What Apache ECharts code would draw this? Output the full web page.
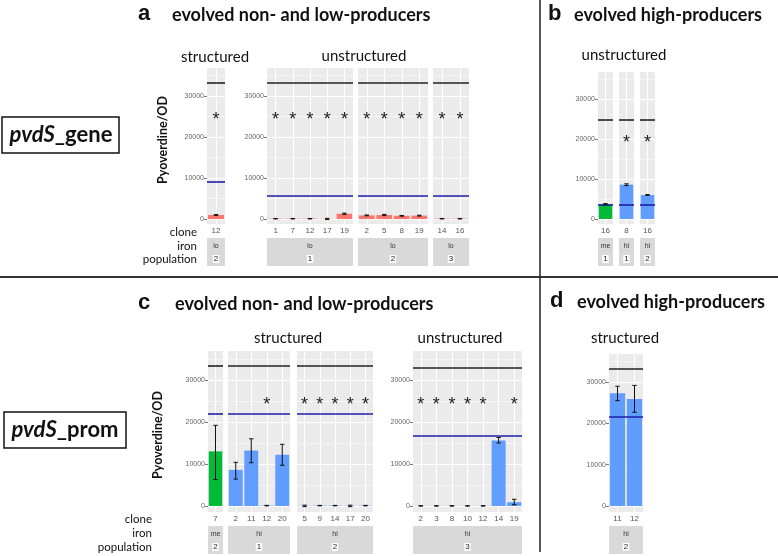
<!DOCTYPE html>
<html><head><meta charset="utf-8">
<script src="https://cdn.jsdelivr.net/npm/echarts@6/dist/echarts.min.js"></script>
<style>html,body{margin:0;padding:0;background:#fff}#c{width:778px;height:556px}</style>
</head><body><div id="c"></div>
<script>
// ================= DATA =================
const yTickValues = [0, 10000, 20000, 30000];
const yMinorValues = [5000, 15000, 25000, 35000];

// Panel a — pvdS_gene, evolved non- and low-producers
const aStrucClones = ['12'];
const aStrucValues = [1000];
const aStrucErrLow = [900];
const aStrucErrHigh = [1100];
const aStrucStars = ['12'];

const aUn1Clones = ['1', '7', '12', '17', '19'];
const aUn1Values = [100, 100, 100, 40, 1300];
const aUn1ErrLow = [50, 50, 50, -120, 1150];
const aUn1ErrHigh = [150, 150, 150, 180, 1450];
const aUn1Stars = ['1', '7', '12', '17', '19'];

const aUn2Clones = ['2', '5', '8', '19'];
const aUn2Values = [900, 1000, 800, 850];
const aUn2ErrLow = [800, 850, 720, 750];
const aUn2ErrHigh = [1000, 1150, 880, 950];
const aUn2Stars = ['2', '5', '8', '19'];

const aUn3Clones = ['14', '16'];
const aUn3Values = [100, 100];
const aUn3ErrLow = [50, 40];
const aUn3ErrHigh = [150, 160];
const aUn3Stars = ['14', '16'];

const aStrucBlack = 33300, aStrucBlue = 9000;
const aUnBlack = 33300, aUnBlue = 5800;
const aStarLevel = 25000;

// Panel b — evolved high-producers, unstructured
const b1Clones = ['16'], b1Values = [3700], b1ErrLow = [3550], b1ErrHigh = [3850], b1Stars = [];
const b2Clones = ['8'], b2Values = [8600], b2ErrLow = [8350], b2ErrHigh = [8800], b2Stars = ['8'];
const b3Clones = ['16'], b3Values = [6000], b3ErrLow = [5900], b3ErrHigh = [6100], b3Stars = ['16'];
const bBlack = 24800, bBlue = 3500, bStarLevel = 20000;

// Panel c — pvdS_prom, evolved non- and low-producers
const cS1Clones = ['7'], cS1Values = [13000], cS1ErrLow = [6300], cS1ErrHigh = [19200], cS1Stars = [];
const cS2Clones = ['2', '11', '12', '20'];
const cS2Values = [8600, 13200, 100, 12200];
const cS2ErrLow = [6400, 10300, 40, 9700];
const cS2ErrHigh = [10400, 16000, 160, 14700];
const cS2Stars = ['12'];
const cS3Clones = ['5', '9', '14', '17', '20'];
const cS3Values = [50, 100, 100, 50, 100];
const cS3ErrLow = [-150, 50, 50, -150, 50];
const cS3ErrHigh = [200, 150, 150, 200, 150];
const cS3Stars = ['5', '9', '14', '17', '20'];
const cStrucBlack = 33300, cStrucBlue = 21900;

const cUnClones = ['2', '3', '8', '10', '12', '14', '19'];
const cUnValues = [30, 30, 30, 30, 30, 15600, 900];
const cUnErrLow = [0, 0, 0, 0, 0, 15000, 300];
const cUnErrHigh = [60, 60, 60, 60, 60, 16300, 1600];
const cUnStars = ['2', '3', '8', '10', '12', '19'];
const cUnBlack = 32800, cUnBlue = 16800;
const cStarLevel = 25000;

// Panel d — evolved high-producers, structured
const dClones = ['11', '12'], dValues = [27300, 25900], dErrLow = [25500, 22700], dErrHigh = [29000, 29200], dStars = [];
const dBlack = 33300, dBlue = 21500;

// ================= STYLE / LAYOUT =================
const RED = '#F8766D', GREEN = '#00BA38', BLUE = '#619CFF';
const facets = [
  {left:207, top:68, width:18, height:156, min:-1200, max:36800, showY:true, stripTop:238, color:RED,
   clones:aStrucClones, values:aStrucValues, lo:aStrucErrLow, hi:aStrucErrHigh, stars:aStrucStars, starY:aStarLevel, black:aStrucBlack, blue:aStrucBlue, iron:'lo', pop:'2'},
  {left:267, top:68, width:86, height:156, min:-1200, max:36800, showY:true, stripTop:238, color:RED,
   clones:aUn1Clones, values:aUn1Values, lo:aUn1ErrLow, hi:aUn1ErrHigh, stars:aUn1Stars, starY:aStarLevel, black:aUnBlack, blue:aUnBlue, iron:'lo', pop:'1'},
  {left:358, top:68, width:70, height:156, min:-1200, max:36800, showY:false, stripTop:238, color:RED,
   clones:aUn2Clones, values:aUn2Values, lo:aUn2ErrLow, hi:aUn2ErrHigh, stars:aUn2Stars, starY:aStarLevel, black:aUnBlack, blue:aUnBlue, iron:'lo', pop:'2'},
  {left:433, top:68, width:36, height:156, min:-1200, max:36800, showY:false, stripTop:238, color:RED,
   clones:aUn3Clones, values:aUn3Values, lo:aUn3ErrLow, hi:aUn3ErrHigh, stars:aUn3Stars, starY:aStarLevel, black:aUnBlack, blue:aUnBlue, iron:'lo', pop:'3'},
  {left:598, top:72, width:15, height:152, min:-1250, max:36750, showY:true, stripTop:238, color:GREEN,
   clones:b1Clones, values:b1Values, lo:b1ErrLow, hi:b1ErrHigh, stars:b1Stars, starY:bStarLevel, black:bBlack, blue:bBlue, iron:'me', pop:'1'},
  {left:619, top:72, width:15, height:152, min:-1250, max:36750, showY:false, stripTop:238, color:BLUE,
   clones:b2Clones, values:b2Values, lo:b2ErrLow, hi:b2ErrHigh, stars:b2Stars, starY:bStarLevel, black:bBlack, blue:bBlue, iron:'hi', pop:'1'},
  {left:640, top:72, width:15, height:152, min:-1250, max:36750, showY:false, stripTop:238, color:BLUE,
   clones:b3Clones, values:b3Values, lo:b3ErrLow, hi:b3ErrHigh, stars:b3Stars, starY:bStarLevel, black:bBlack, blue:bBlue, iron:'hi', pop:'2'},
  {left:208, top:351, width:15, height:161, min:-1430, max:36900, showY:true, stripTop:526, color:GREEN,
   clones:cS1Clones, values:cS1Values, lo:cS1ErrLow, hi:cS1ErrHigh, stars:cS1Stars, starY:cStarLevel, black:cStrucBlack, blue:cStrucBlue, iron:'me', pop:'2'},
  {left:228, top:351, width:62, height:161, min:-1430, max:36900, showY:false, stripTop:526, color:BLUE,
   clones:cS2Clones, values:cS2Values, lo:cS2ErrLow, hi:cS2ErrHigh, stars:cS2Stars, starY:cStarLevel, black:cStrucBlack, blue:cStrucBlue, iron:'hi', pop:'1'},
  {left:297, top:351, width:76, height:161, min:-1430, max:36900, showY:false, stripTop:526, color:BLUE,
   clones:cS3Clones, values:cS3Values, lo:cS3ErrLow, hi:cS3ErrHigh, stars:cS3Stars, starY:cStarLevel, black:cStrucBlack, blue:cStrucBlue, iron:'hi', pop:'2'},
  {left:413, top:351, width:109, height:161, min:-1430, max:36900, showY:true, stripTop:526, color:BLUE,
   clones:cUnClones, values:cUnValues, lo:cUnErrLow, hi:cUnErrHigh, stars:cUnStars, starY:cStarLevel, black:cUnBlack, blue:cUnBlue, iron:'hi', pop:'3'},
  {left:609, top:354, width:34, height:158, min:-1450, max:36800, showY:true, stripTop:526, color:BLUE,
   clones:dClones, values:dValues, lo:dErrLow, hi:dErrHigh, stars:dStars, starY:0, black:dBlack, blue:dBlue, iron:'hi', pop:'2'}
];

const TITLE_FONT = 'Lato, "Open Sans", sans-serif';
const grid = [], xAxis = [], yAxis = [], series = [], graphic = [];

function errRender(params, api) {
  const x = api.value(0), lo = api.value(1), hi = api.value(2);
  const pLo = api.coord([x, lo]), pHi = api.coord([x, hi]);
  const w = 2.2, cx = pLo[0];
  const st = {fill: '#111'};
  return {type: 'group', children: [
    {type: 'rect', shape: {x: cx - 0.5, y: pHi[1], width: 1, height: Math.max(1, pLo[1] - pHi[1])}, style: st},
    {type: 'rect', shape: {x: cx - w, y: pLo[1] - 0.5, width: 2 * w, height: 1}, style: st},
    {type: 'rect', shape: {x: cx - w, y: pHi[1] - 0.5, width: 2 * w, height: 1}, style: st}
  ]};
}
function starRender(params, api) {
  const p = api.coord([api.value(0), api.value(1)]);
  return {type: 'text', x: p[0], y: p[1] + 4,
    style: {text: '*', fill: '#222', font: '18px "Liberation Sans", sans-serif', textAlign: 'center', textVerticalAlign: 'middle'}};
}

facets.forEach((f, i) => {
  grid.push({left: f.left, top: f.top, width: f.width, height: f.height, show: true,
    backgroundColor: '#EBEBEB', borderWidth: 0, containLabel: false});
  xAxis.push({type: 'category', gridIndex: i, data: f.clones, boundaryGap: true,
    axisLine: {show: false},
    axisTick: {show: true, alignWithLabel: true, length: 3, lineStyle: {color: '#555', width: 0.8}},
    axisLabel: {show: true, fontSize: 8, color: '#555', margin: 3, interval: 0, fontFamily: 'Liberation Sans'},
    splitLine: {show: false}});
  yAxis.push({type: 'value', gridIndex: i, min: f.min, max: f.max,
    axisLine: {show: false},
    axisTick: {show: f.showY, length: 3, customValues: yTickValues, lineStyle: {color: '#555', width: 0.8}},
    axisLabel: {show: f.showY, fontSize: 7, color: '#666', margin: 3, customValues: yTickValues,
      formatter: v => String(v), fontFamily: 'Liberation Sans'},
    splitLine: {show: false}});
  const gl = [];
  yTickValues.forEach(v => gl.push({yAxis: v, lineStyle: {width: 1}}));
  yMinorValues.forEach(v => gl.push({yAxis: v, lineStyle: {width: 0.5}}));
  f.clones.forEach(c => gl.push({xAxis: c, lineStyle: {width: 1}}));
  series.push({type: 'line', xAxisIndex: i, yAxisIndex: i, data: [], z: 1, silent: true,
    markLine: {z: 1, silent: true, symbol: 'none', label: {show: false}, emphasis: {disabled: true},
      lineStyle: {color: '#ffffff', type: 'solid'}, data: gl, animation: false}});
  series.push({type: 'bar', xAxisIndex: i, yAxisIndex: i, data: f.values, barCategoryGap: '10%',
    itemStyle: {color: f.color}, z: 2, silent: true});
  series.push({type: 'line', xAxisIndex: i, yAxisIndex: i, data: [], z: 3, silent: true,
    markLine: {z: 3, silent: true, symbol: 'none', label: {show: false}, emphasis: {disabled: true}, animation: false,
      data: [{yAxis: f.black, lineStyle: {color: '#222', width: 1.6, type: 'solid'}},
             {yAxis: f.blue, lineStyle: {color: '#1F1FA8', width: 1.6, type: 'solid'}}]}});
  series.push({type: 'custom', xAxisIndex: i, yAxisIndex: i, z: 4, silent: true,
    data: f.clones.map((c, k) => [k, f.lo[k], f.hi[k]]), renderItem: errRender});
  series.push({type: 'custom', xAxisIndex: i, yAxisIndex: i, z: 5, silent: true,
    data: f.stars.map(c => [f.clones.indexOf(c), f.starY]), renderItem: starRender});
  graphic.push({type: 'rect', shape: {x: f.left, y: f.stripTop, width: f.width, height: 28},
    style: {fill: '#D9D9D9'}, silent: true});
  graphic.push({type: 'text', x: f.left + f.width / 2, y: f.stripTop + 8,
    style: {text: f.iron, fill: '#333', font: '7px "Liberation Sans"', textAlign: 'center', textVerticalAlign: 'middle'}});
  graphic.push({type: 'text', x: f.left + f.width / 2, y: f.stripTop + 21,
    style: {text: f.pop, fill: '#222', font: '8px "Liberation Sans"', textAlign: 'center', textVerticalAlign: 'middle',
      backgroundColor: '#fff', padding: [0, 1]}});
});

function txt(x, y, text, font, align, extra) {
  return Object.assign({type: 'text', x: x, y: y, silent: true,
    style: {text: text, font: font, fill: '#111', textAlign: align || 'left', textVerticalAlign: 'middle'}}, extra || {});
}
const B17 = 'bold 18px ' + TITLE_FONT;
const R15 = '15px ' + TITLE_FONT;
const R12 = '11.5px ' + TITLE_FONT;
const LET = 'bold 22px "Liberation Sans", Arial, sans-serif';
graphic.push(
  txt(138, 14, 'a', LET), txt(172, 15, 'evolved non- and low-producers', B17),
  txt(215, 57, 'structured', R15, 'center'), txt(364, 56, 'unstructured', R15, 'center'),
  txt(548, 14, 'b', LET), txt(574, 15, 'evolved high-producers', B17),
  txt(624, 55, 'unstructured', R15, 'center'),
  txt(138, 303, 'c', LET), txt(175, 304, 'evolved non- and low-producers', B17),
  txt(288, 338, 'structured', R15, 'center'), txt(460, 338, 'unstructured', R15, 'center'),
  txt(550, 301, 'd', LET), txt(577, 302, 'evolved high-producers', B17),
  txt(625, 338, 'structured', R15, 'center'),
  txt(197, 232, 'clone', R12, 'right'), txt(197, 246, 'iron', R12, 'right'), txt(197, 259, 'population', R12, 'right'),
  txt(152, 519, 'clone', R12, 'right'), txt(152, 533, 'iron', R12, 'right'), txt(152, 547, 'population', R12, 'right'),
  txt(163, 140, 'Pyoverdine/OD', 'bold 12.5px ' + TITLE_FONT, 'center', {rotation: Math.PI / 2}),
  txt(158, 435, 'Pyoverdine/OD', 'bold 12.5px ' + TITLE_FONT, 'center', {rotation: Math.PI / 2})
);
graphic.push({type: 'rect', shape: {x: 2, y: 117, width: 117, height: 36}, style: {fill: '#fff', stroke: '#111', lineWidth: 1.5}});
graphic.push({type: 'text', x: 61, y: 135, style: {text: '{i|pvdS}{n|_gene}', textAlign: 'center', textVerticalAlign: 'middle',
  rich: {i: {font: 'italic bold 22px ' + TITLE_FONT, fill: '#111'}, n: {font: 'bold 22px ' + TITLE_FONT, fill: '#111'}}}});
graphic.push({type: 'rect', shape: {x: 4, y: 412, width: 122, height: 36}, style: {fill: '#fff', stroke: '#111', lineWidth: 1.5}});
graphic.push({type: 'text', x: 65, y: 430, style: {text: '{i|pvdS}{n|_prom}', textAlign: 'center', textVerticalAlign: 'middle',
  rich: {i: {font: 'italic bold 22px ' + TITLE_FONT, fill: '#111'}, n: {font: 'bold 22px ' + TITLE_FONT, fill: '#111'}}}});
graphic.push({type: 'line', shape: {x1: 0, y1: 277, x2: 778, y2: 277}, style: {stroke: '#333', lineWidth: 2}});
graphic.push({type: 'line', shape: {x1: 540, y1: 0, x2: 540, y2: 552}, style: {stroke: '#222', lineWidth: 1.5}});

const chart = echarts.init(document.getElementById('c'), null, {renderer: 'canvas'});
chart.setOption({animation: false, backgroundColor: '#fff', grid, xAxis, yAxis, series, graphic});
</script></body></html>
